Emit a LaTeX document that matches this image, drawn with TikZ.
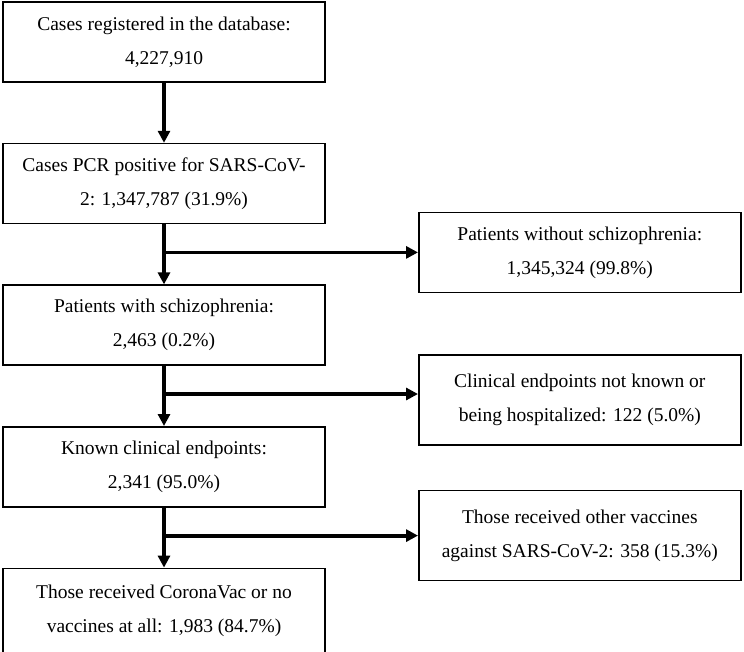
\documentclass[tikz,border=0pt]{standalone}
\usepackage{fontspec}
\setmainfont{Liberation Serif}
\usetikzlibrary{positioning,calc,arrows.meta}
\tikzset{
    every node/.style={font=\fontsize{19.5}{34}\selectfont},
    flowbox/.style={draw, line width=1.6pt, minimum width=322pt, minimum height=80pt, inner sep=2pt, align=center},
    arrow/.style={-{Triangle[length=12pt, width=12pt]}, line width=3.8pt},
}
\begin{document}
\begin{tikzpicture}[x=1pt, y=1pt, node distance=60pt]
\useasboundingbox (0,0) rectangle (744,-651);
% main column on the left
\node[flowbox] (registered) at (164,-42) {Cases registered in the database:\\4,227,910};
\node[flowbox, below=of registered] (pcrpos) {Cases PCR positive for SARS-CoV-\\2: 1,347,787 (31.9\%)};
\node[flowbox, below=of pcrpos] (schizo) {Patients with schizophrenia:\\2,463 (0.2\%)};
\node[flowbox, below=of schizo] (known) {Known clinical endpoints:\\2,341 (95.0\%)};
\node[flowbox, below=of known, minimum height=84pt] (corona) {Those received CoronaVac or no\\vaccines at all: 1,983 (84.7\%)};
% branch points on the vertical arrows
\coordinate (b1) at ($(pcrpos.south) + (0,-28)$);
\coordinate (b2) at ($(schizo.south) + (0,-28)$);
\coordinate (b3) at ($(known.south) + (0,-28)$);
% excluded cases on the right
\node[flowbox, right=254pt of b1] (noschizo) {Patients without schizophrenia:\\1,345,324 (99.8\%)};
\node[flowbox, right=254pt of b2, yshift=-6pt, minimum height=90pt] (unknown) {Clinical endpoints not known or\\being hospitalized: 122 (5.0\%)};
\node[flowbox, right=254pt of b3, minimum height=90pt] (othervac) {Those received other vaccines\\against SARS-CoV-2: 358 (15.3\%)};
\draw[arrow] (registered) -- (pcrpos);
\draw[arrow] (pcrpos) -- (schizo);
\draw[arrow] (schizo) -- (known);
\draw[arrow] (known) -- (corona);
\draw[arrow] (b1) -- (noschizo.west);
\draw[arrow] (b2) -- (b2 -| unknown.west);
\draw[arrow] (b3) -- (othervac.west);
\end{tikzpicture}
\end{document}
